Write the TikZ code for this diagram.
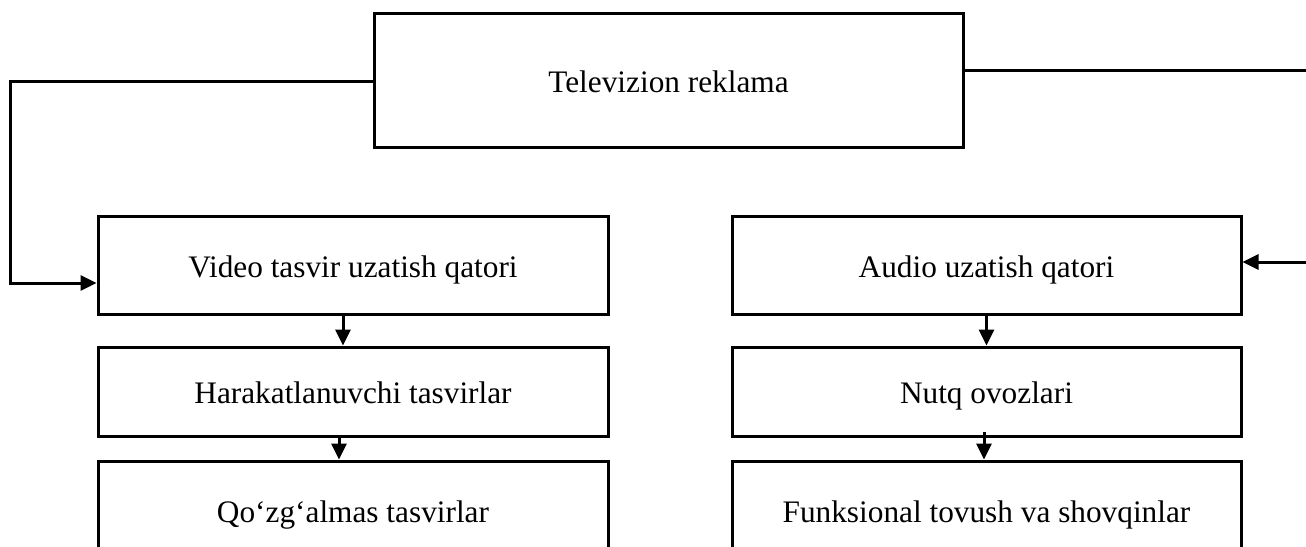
\documentclass[tikz,border=0pt]{standalone}
\usepackage{fontspec}
\setmainfont{Liberation Serif}
\usetikzlibrary{arrows.meta}
\begin{document}
\begin{tikzpicture}[x=1pt,y=-1pt,
  box/.style={draw,line width=3pt,rectangle,inner sep=0pt,
    text height=24pt,text depth=0pt,
    font=\fontsize{31.3}{37}\selectfont},
  conn/.style={line width=3pt},
  arr/.style={conn,-{Triangle[length=16pt,width=15pt]}}]
\useasboundingbox (0,0) rectangle (1306,546);
\clip (0,0) rectangle (1306,546);
\fill[white] (0,0) rectangle (1306,546);
\node[box,minimum width=589pt,minimum height=134pt] (top) at (668.5,80) {Televizion reklama};
\node[box,minimum width=510pt,minimum height=98pt] (video) at (353,265) {Video tasvir uzatish qatori};
\node[box,minimum width=510pt,minimum height=89pt] (har) at (353,391.5) {Harakatlanuvchi tasvirlar};
\node[box,minimum width=510pt,minimum height=98pt] (qoz) at (353,510) {Qo‘zg‘almas tasvirlar};
\node[box,minimum width=509pt,minimum height=98pt] (audio) at (986.5,265) {Audio uzatish qatori};
\node[box,minimum width=509pt,minimum height=89pt] (nutq) at (986.5,391.5) {Nutq ovozlari};
\node[box,minimum width=509pt,minimum height=98pt] (funk) at (986.5,510) {Funksional tovush va shovqinlar};
\coordinate (lc1) at (10,81);
\coordinate (lc2) at (10,283);
\coordinate (re1) at (1310,70);
\coordinate (re2) at (1310,262);
\draw[arr] (lc1 -| top.west) -- (lc1) -- (lc2) -- (lc2 -| video.west);
\draw[conn] (re1 -| top.east) -- (re1);
\draw[arr] (re2) -- (re2 -| audio.east);
\draw[arr] ([xshift=-10pt]video.south) -- ([xshift=-10pt]har.north);
\draw[arr] ([xshift=-14pt,yshift=1pt]har.south) -- ([xshift=-14pt]qoz.north);
\draw[arr] (audio.south) -- (nutq.north);
\draw[arr] ([xshift=-2.5pt,yshift=6pt]nutq.south) -- ([xshift=-2.5pt]funk.north);
\end{tikzpicture}
\end{document}
